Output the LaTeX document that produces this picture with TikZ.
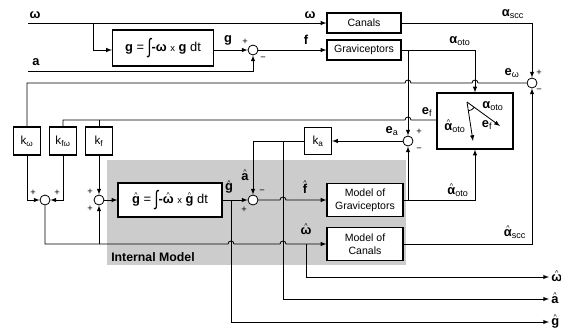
\documentclass[tikz,border=0pt]{standalone}
\usepackage{fontspec}
\setmainfont{Liberation Sans}
\usepackage{graphicx}
\newsavebox{\hatbox}
\newcommand{\hatt}[1]{\sbox{\hatbox}{#1}\rlap{\makebox[\wd\hatbox]{\raisebox{\dimexpr\ht\hatbox-1.2pt\relax}{\fontsize{6}{6}\selectfont\textasciicircum}}}\usebox{\hatbox}}
\newcommand{\integ}{\raisebox{-0.35ex}{\scalebox{1.1}[1.6]{∫}}}
\begin{document}
\begin{tikzpicture}[x=0.3mm, y=-0.3mm, line width=0.7pt,
	blk/.style={shape=rectangle, draw, line width=0.9pt, fill=white, inner sep=1pt, font=\fontsize{9}{11}\selectfont},
	sumj/.style={shape=circle, draw, fill=white, minimum size=3mm, inner sep=0pt},
	sig/.style={inner sep=0pt, font=\fontsize{11}{12}\selectfont},
	sgn/.style={inner sep=0pt, font=\fontsize{8}{8}\selectfont}]
			\useasboundingbox (0,0) rectangle (561,331);
			\fill[black!20] (107,160) rectangle (406,265);
			\node[inner sep=0pt, font=\bfseries\fontsize{10.5}{12}\selectfont](IM) at (153,257){Internal Model};
			\node[blk, minimum width=2.22cm, minimum height=0.6cm](canals) at (364,23){Canals};
			\node[blk, minimum width=2.22cm, minimum height=0.6cm](grav) at (364,50){Graviceptors};
			\node[blk, minimum width=3.03cm, minimum height=1.08cm, font=\fontsize{11}{12}\selectfont](gint) at (163,48){\textbf{g} = \integ\textbf{-ω} {\footnotesize x} \textbf{g} dt};
			\node[sumj](s1) at (253,50){};
			\node[sumj](s2) at (532,83){};
			\node[blk, minimum width=2.28cm, minimum height=1.68cm](ebox) at (475,121){};
			\node[sumj](s3) at (408,141){};
			\node[blk, minimum width=0.81cm, minimum height=0.81cm, font=\fontsize{10}{12}\selectfont](ka) at (318,141){k\textsubscript{a}};
			\node[blk, minimum width=0.81cm, minimum height=0.84cm, font=\fontsize{10}{12}\selectfont](kw) at (27,141){k\textsubscript{ω}};
			\node[blk, minimum width=0.81cm, minimum height=0.84cm, font=\fontsize{10}{12}\selectfont](kfw) at (63,141){k\textsubscript{fω}};
			\node[blk, minimum width=0.81cm, minimum height=0.84cm, font=\fontsize{10}{12}\selectfont](kf) at (99,141){k\textsubscript{f}};
			\node[sumj](s4) at (45,200){};
			\node[sumj](s5) at (99,200){};
			\node[blk, minimum width=3.12cm, minimum height=1.02cm, font=\fontsize{11}{12}\selectfont](ghat) at (170,200){\hatt{\textbf{g}} = \integ\textbf{-}\hatt{\textbf{ω}} {\footnotesize x} \hatt{\textbf{g}} dt};
			\node[sumj](s6) at (253,200){};
			\node[blk, minimum width=2.28cm, minimum height=0.99cm, align=center](mgrav) at (365,200){Model of\\Graviceptors};
			\node[blk, minimum width=2.28cm, minimum height=0.99cm, align=center](mcan) at (365,244){Model of\\Canals};
			\coordinate(win) at (28,23);
			\coordinate(ain) at (28,71);
			\coordinate(wout) at (549,277);
			\coordinate(aout) at (549,299);
			\coordinate(gout) at (549,322);
			\coordinate(bw) at (93,23);
			\coordinate(boto) at (408,50);
			\coordinate(bkf) at (99,120);
			\coordinate(bka) at (283,141);
			\coordinate(bg) at (231,200);
			\coordinate(bwh) at (99,244);
			\coordinate(bwo) at (306,244);
			\coordinate(bmg) at (408,200);
			\draw[-latex] (win) -- (canals.west);
			\draw[-latex] (bw) |- (gint.west |- s1);
			\draw[-latex] (ain) -| (s1.south);
			\draw[-latex] (gint.east |- s1) -- (s1.west);
			\draw[-latex] (s1.east) -- (grav.west);
			\draw[-latex] (canals.east) -| (s2.north);
			\draw[-latex] (grav.east) -| (ebox.north);
			\draw[-latex] (boto) -- (s3.north);
			\draw (s2.west) -- (478,83) arc[start angle=0, end angle=-180, radius=3] -- (411,83) arc[start angle=0, end angle=-180, radius=3] -- (27,83) -- (kw.north);
			\draw (ebox.west |- 0,120) -- (411,120) arc[start angle=0, end angle=-180, radius=3] -- (63,120) -- (kfw.north);
			\draw (bkf) -- (kf.north);
			\draw[-latex] (s3.west) -- (ka.east);
			\draw[-latex] (ka.west) -| (s6.north);
			\draw[-latex] (bka) |- (aout);
			\draw[-latex] (kw.south) |- (s4.west);
			\draw[-latex] (kfw.south) |- (s4.east);
			\draw[-latex] (kf.south) -- (s5.north);
			\draw[-latex] (s5.east) -- (ghat.west);
			\draw[-latex] (ghat.east) -- (s6.west);
			\draw[-latex] (bg) |- (gout);
			\draw[-latex] (s6.east) -- (280,200) arc[start angle=180, end angle=360, radius=3] -- (mgrav.west);
			\draw[-latex] (s4.south) |- (228,244) arc[start angle=180, end angle=360, radius=3] -- (280,244) arc[start angle=180, end angle=360, radius=3] -- (mcan.west);
			\draw[-latex] (bwh) -- (s5.south);
			\draw[-latex] (bwo) |- (wout);
			\draw[-latex] (mgrav.east) -| (ebox.south);
			\draw[-latex] (bmg) -- (s3.south);
			\draw[-latex] (mcan.east) -| (s2.south);
			\coordinate(apex) at (467,102);
			\draw[-latex] (apex) -- (500,126);
			\draw[-latex] (apex) -- (473,141);
			\draw (apex) ++(36:9) arc[start angle=36, end angle=81, radius=9];
			\node[sig](Lw) at (35,15){\textbf{ω}};
			\node[sig](La) at (36,62){\textbf{a}};
			\node[sig](Lg) at (228,40){\textbf{g}};
			\node[sgn] at (245,42){+};
			\node[sgn] at (263,59){−};
			\node[sig](Lf) at (306,40){\textbf{f}};
			\node[sig](Lw2) at (310,15){\textbf{ω}};
			\node[sig](Lascc) at (513,14){\textbf{α}\textsubscript{scc}};
			\node[sig](Laoto) at (460,41){\textbf{α}\textsubscript{oto}};
			\node[sig](Lew) at (512,73){\textbf{e}\textsubscript{ω}};
			\node[sgn] at (539,73){+};
			\node[sgn] at (539,91){−};
			\node[sig](Lef) at (427,112){\textbf{e}\textsubscript{f}};
			\node[sig](Lea) at (392,131){\textbf{e}\textsubscript{a}};
			\node[sgn] at (419,132){+};
			\node[sgn] at (419,150){−};
			\node[sig](Lb1) at (493,106){\textbf{α}\textsubscript{oto}};
			\node[sig](Lb2) at (455,126){\hatt{\textbf{α}}\textsubscript{oto}};
			\node[sig](Lb3) at (487,125){\textbf{e}\textsubscript{f}};
			\node[sig](Lah) at (245,175){\hatt{\textbf{a}}};
			\node[sgn] at (262,192){−};
			\node[sgn] at (244,210){+};
			\node[sig](Lgh) at (229,187){\hatt{\textbf{g}}};
			\node[sig](Lfh) at (305,187){\hatt{\textbf{f}}};
			\node[sig](Laoh) at (458,190){\hatt{\textbf{α}}\textsubscript{oto}};
			\node[sig](Lash) at (515,232){\hatt{\textbf{α}}\textsubscript{scc}};
			\node[sig](Lwh) at (306,229){\hatt{\textbf{ω}}};
			\node[sgn] at (33,193){+};
			\node[sgn] at (57,193){+};
			\node[sgn] at (90,192){+};
			\node[sgn] at (90,209){+};
			\node[sig, anchor=base west](Low) at (551,281){\hatt{\textbf{ω}}};
			\node[sig, anchor=base west](Loa) at (551,303){\hatt{\textbf{a}}};
			\node[sig, anchor=base west](Log) at (551,325){\hatt{\textbf{g}}};
		\end{tikzpicture}
\end{document}
